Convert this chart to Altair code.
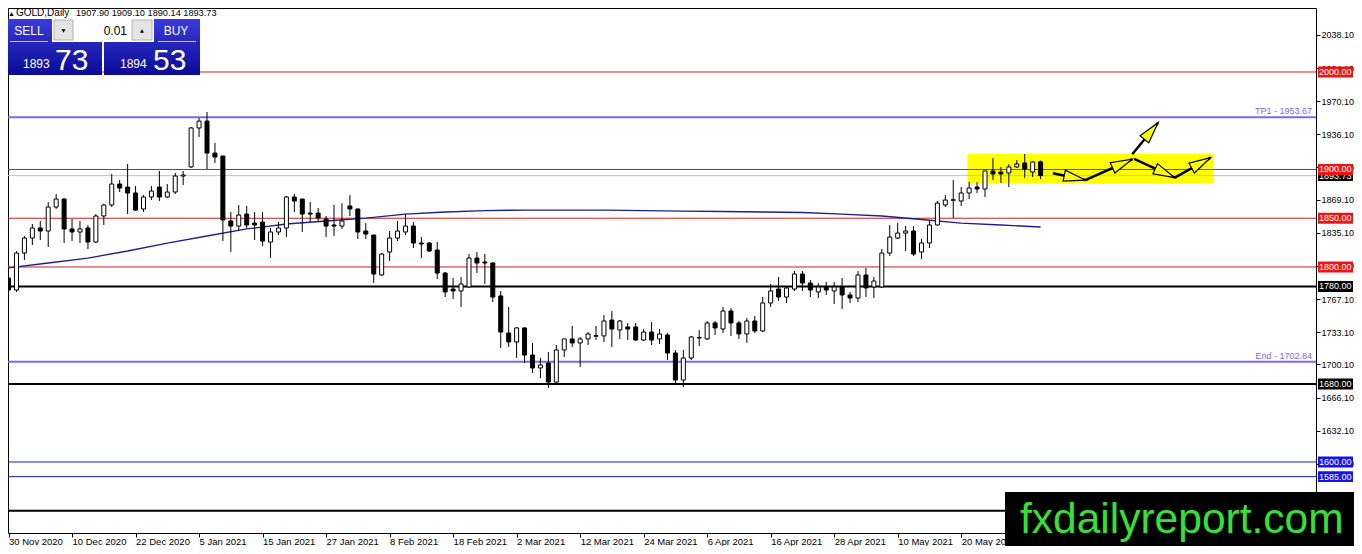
import math
import altair as alt
import pandas as pd

FONT = "Liberation Sans"

# ---------------- data ----------------
bar_index = list(range(131))
opens = [1788.7, 1776.4, 1814.3, 1829.7, 1840.0, 1836.9, 1861.5, 1869.7, 1839.0, 1835.9,
         1840.0, 1825.6, 1852.3, 1863.6, 1885.1, 1882.0, 1875.9, 1859.5, 1871.8, 1882.0,
         1871.8, 1876.9, 1893.3, 1902.6, 1942.6, 1949.7, 1916.9, 1913.8, 1847.2, 1842.0,
         1854.3, 1845.1, 1846.1, 1825.6, 1835.9, 1840.0, 1871.8, 1869.7, 1855.3, 1855.3,
         1849.2, 1843.1, 1842.0, 1862.6, 1859.5, 1836.9, 1832.8, 1791.8, 1815.4, 1829.7,
         1835.9, 1842.0, 1824.6, 1824.6, 1817.4, 1793.8, 1777.4, 1775.4, 1779.5, 1809.2,
         1805.1, 1804.1, 1770.3, 1732.3, 1723.1, 1737.5, 1709.7, 1696.4, 1701.5, 1682.0,
         1714.9, 1726.2, 1722.1, 1726.2, 1729.0, 1729.3, 1745.6, 1735.4, 1738.5, 1738.5,
         1725.1, 1733.3, 1726.2, 1730.3, 1711.8, 1684.1, 1706.7, 1727.7, 1726.2, 1742.6,
         1736.4, 1754.9, 1742.6, 1731.3, 1744.6, 1734.4, 1763.1, 1777.4, 1769.2, 1777.4,
         1792.8, 1783.6, 1774.4, 1779.5, 1775.4, 1779.5, 1771.3, 1768.2, 1791.8, 1779.5,
         1779.5, 1814.3, 1829.7, 1834.8, 1836.9, 1815.4, 1824.6, 1843.1, 1863.6, 1868.4,
         1867.7, 1875.9, 1882.0, 1880.0, 1898.5, 1897.4, 1896.4, 1902.6, 1906.7, 1897.4,
         1907.90]
highs = [1791.8, 1816.4, 1831.8, 1844.1, 1847.2, 1866.6, 1874.9, 1870.7, 1849.2, 1847.2,
         1843.1, 1854.3, 1864.6, 1895.4, 1889.2, 1905.6, 1883.1, 1873.8, 1883.1, 1898.5,
         1885.1, 1896.4, 1898.5, 1943.6, 1952.8, 1959.0, 1927.2, 1914.0, 1856.4, 1863.6,
         1862.6, 1856.4, 1856.4, 1840.0, 1846.1, 1872.8, 1874.9, 1870.0, 1866.6, 1860.5,
         1852.3, 1863.6, 1865.6, 1873.8, 1860.0, 1845.1, 1833.0, 1814.3, 1836.9, 1847.2,
         1854.3, 1846.1, 1830.7, 1825.6, 1825.6, 1794.9, 1788.7, 1789.7, 1813.3, 1815.4,
         1813.3, 1805.0, 1775.4, 1759.0, 1738.5, 1738.0, 1722.1, 1706.7, 1712.8, 1720.0,
         1726.5, 1739.5, 1728.2, 1733.3, 1739.5, 1750.8, 1754.9, 1745.6, 1742.6, 1742.6,
         1736.4, 1743.6, 1736.4, 1732.3, 1714.9, 1714.9, 1729.3, 1735.4, 1744.6, 1744.6,
         1759.0, 1758.0, 1744.6, 1747.7, 1749.7, 1769.2, 1782.6, 1789.7, 1780.5, 1795.9,
         1795.9, 1786.7, 1783.6, 1784.6, 1784.6, 1788.7, 1774.4, 1795.9, 1799.0, 1789.7,
         1818.4, 1843.1, 1845.1, 1842.0, 1842.0, 1828.7, 1848.2, 1867.7, 1873.8, 1889.2,
         1882.0, 1887.2, 1887.2, 1898.8, 1911.8, 1902.6, 1905.6, 1909.7, 1915.9, 1908.7,
         1909.10]
lows = [1764.1, 1774.4, 1807.2, 1822.5, 1827.7, 1820.5, 1859.5, 1824.6, 1826.6, 1824.6,
        1818.4, 1824.6, 1843.1, 1861.5, 1876.9, 1854.3, 1857.4, 1856.4, 1868.7, 1867.7,
        1870.7, 1874.9, 1884.1, 1901.5, 1933.3, 1900.5, 1906.7, 1826.6, 1815.4, 1836.9,
        1840.0, 1827.7, 1821.5, 1809.2, 1832.8, 1830.7, 1856.4, 1835.9, 1846.1, 1846.1,
        1830.7, 1831.8, 1839.0, 1852.3, 1828.7, 1828.7, 1783.6, 1790.8, 1806.2, 1826.6,
        1832.8, 1819.5, 1809.2, 1815.4, 1787.7, 1769.2, 1767.2, 1759.0, 1779.0, 1793.8,
        1782.6, 1764.1, 1716.9, 1718.0, 1706.7, 1701.5, 1691.3, 1686.1, 1675.9, 1678.9,
        1707.7, 1718.0, 1697.4, 1720.0, 1725.1, 1723.1, 1718.0, 1726.2, 1725.1, 1724.1,
        1724.1, 1720.0, 1721.0, 1704.6, 1678.9, 1676.9, 1704.6, 1719.0, 1725.1, 1730.3,
        1732.3, 1729.3, 1726.2, 1722.1, 1732.3, 1733.3, 1759.0, 1765.1, 1763.1, 1775.4,
        1775.4, 1769.2, 1768.2, 1771.3, 1762.1, 1756.9, 1763.1, 1764.1, 1769.2, 1768.2,
        1779.0, 1811.3, 1828.7, 1816.4, 1811.3, 1808.2, 1819.5, 1842.5, 1861.5, 1850.2,
        1862.6, 1869.7, 1875.9, 1871.8, 1889.2, 1886.2, 1882.0, 1901.5, 1891.3, 1892.3,
        1890.14]
closes = [1776.4, 1814.3, 1829.7, 1840.0, 1836.9, 1861.5, 1869.7, 1839.0, 1835.9, 1839.0,
          1825.6, 1852.3, 1863.6, 1885.1, 1881.0, 1875.9, 1858.4, 1871.8, 1877.9, 1871.8,
          1876.9, 1893.3, 1894.4, 1942.6, 1949.7, 1916.9, 1912.8, 1848.2, 1842.0, 1853.3,
          1843.1, 1843.1, 1826.6, 1835.9, 1840.0, 1871.8, 1867.7, 1854.3, 1854.3, 1850.2,
          1842.0, 1842.0, 1847.2, 1859.5, 1835.9, 1833.8, 1792.8, 1813.3, 1829.7, 1836.9,
          1842.0, 1824.6, 1823.6, 1816.4, 1793.8, 1774.4, 1775.4, 1782.6, 1809.2, 1804.1,
          1804.1, 1769.2, 1733.3, 1723.1, 1737.5, 1709.7, 1696.4, 1699.5, 1682.0, 1714.9,
          1726.2, 1722.1, 1726.2, 1731.3, 1729.6, 1744.6, 1736.4, 1744.6, 1736.4, 1725.1,
          1733.3, 1725.1, 1731.3, 1711.8, 1684.1, 1706.7, 1728.2, 1727.2, 1742.6, 1737.5,
          1754.9, 1742.6, 1731.3, 1744.6, 1734.4, 1763.1, 1775.4, 1769.2, 1778.5, 1792.8,
          1783.6, 1776.4, 1779.5, 1776.4, 1779.5, 1771.3, 1768.2, 1791.8, 1778.5, 1785.6,
          1814.3, 1830.7, 1834.8, 1836.9, 1813.3, 1824.6, 1843.1, 1865.6, 1868.7, 1869.0,
          1875.9, 1881.0, 1880.0, 1898.5, 1895.4, 1895.4, 1902.6, 1905.6, 1900.5, 1907.7,
          1893.73]

ma_index = [0, 5, 10, 15, 20, 25, 30, 35, 40, 45, 50, 55, 60, 65, 70, 75, 80, 85, 90,
            95, 100, 105, 110, 115, 120, 125, 130]
ma_value = [1799.0, 1804.1, 1809.2, 1816.4, 1824.6, 1831.8, 1839.0, 1844.1, 1847.2,
            1850.2, 1854.3, 1856.4, 1857.9, 1858.4, 1858.4, 1858.4, 1857.9, 1857.4,
            1856.9, 1856.4, 1855.9, 1854.3, 1852.3, 1848.7, 1845.1, 1843.1, 1841.0]

level_price = [2000.0, 1900.0, 1850.0, 1800.0, 1780.0, 1680.0, 1600.0, 1585.0, 1550.0]
level_line_color = ["#d41c1c", "#d41c1c", "#d41c1c", "#d41c1c", "#000000", "#000000",
                    "#1c1cc0", "#1c1cc0", "#000000"]
level_width = [1, 1, 1, 1, 2, 2, 1, 1, 2]

# price tags shown on the right scale (the 1550 tag sits under the watermark)
tag_price = [2000.0, 1900.0, 1850.0, 1800.0, 1780.0, 1680.0, 1600.0, 1585.0]
tag_color = ["#ee1414", "#ee1414", "#ee1414", "#ee1414", "#000000", "#000000",
             "#1414ee", "#1414ee"]

target_price = [1953.67, 1702.84]
target_label = ["TP1 - 1953.67", "End - 1702.84"]

bid_price = [1893.73]

zone_x1, zone_x2 = [120.8], [151.8]
zone_p1, zone_p2 = [1915.9], [1886.2]

arrow_x1 = [131.55, 135.63, 141.55, 141.8, 146.9]
arrow_p1 = [1896.1, 1889.2, 1915.6, 1910.8, 1891.6]
arrow_x2 = [135.63, 141.55, 144.8, 146.9, 151.4]
arrow_p2 = [1889.2, 1910.5, 1948.0, 1891.6, 1912.1]

date_ticks = [0, 8, 16, 24, 32, 40, 48, 56, 64, 72, 80, 88, 96, 104, 112, 120]
date_labels = ["30 Nov 2020", "10 Dec 2020", "22 Dec 2020", "5 Jan 2021", "15 Jan 2021",
               "27 Jan 2021", "8 Feb 2021", "18 Feb 2021", "2 Mar 2021", "12 Mar 2021",
               "24 Mar 2021", "6 Apr 2021", "16 Apr 2021", "28 Apr 2021", "10 May 2021",
               "20 May 2021"]
price_ticks = [2038.1, 2004.1, 1970.1, 1936.1, 1902.1, 1869.1, 1835.1, 1801.1, 1767.1,
               1733.1, 1700.1, 1666.1, 1632.1, 1598.1]

# ---------------- layout ----------------
W, H = 1308, 525
PAD_R, PAD_B = 38, 13
PX_PER_BAR = 8.0
PX_PER_USD = 0.975
X_DOMAIN = [0.5625, 0.5625 + W / PX_PER_BAR]
Y_TOP = 2065.64
Y_DOMAIN = [Y_TOP - H / PX_PER_USD, Y_TOP]

xs = alt.Scale(domain=X_DOMAIN, nice=False, zero=False)
ys = alt.Scale(domain=Y_DOMAIN, nice=False, zero=False)

label_js = "[" + ",".join("'" + d + "'" for d in date_labels) + "]"
x_axis = alt.Axis(values=date_ticks, labelExpr=label_js + "[round(datum.value/8)]",
                  orient="bottom", grid=False, domain=False, tickSize=4, tickColor="black",
                  labelAlign="left", labelBaseline="alphabetic", labelPadding=7,
                  labelFont=FONT, labelFontSize=9.5, labelColor="black", labelOverlap=False,
                  labelFlush=False, labelBound=False, title=None, zindex=0)
y_axis = alt.Axis(values=price_ticks, format=".2f", orient="right", grid=False, domain=False,
                  tickSize=4, tickColor="black", labelPadding=1, labelFont=FONT,
                  labelFontSize=9, labelColor="black", labelOverlap=False, labelFlush=False,
                  labelBound=False, title=None, zindex=0)


def X(f):
    return alt.X(f + ":Q", scale=xs, axis=x_axis)


def Y(f):
    return alt.Y(f + ":Q", scale=ys, axis=y_axis)


candles = pd.DataFrame({"i": bar_index, "open": opens, "high": highs,
                        "low": lows, "close": closes})
ma = pd.DataFrame({"i": ma_index, "v": ma_value})
levels = pd.DataFrame({"p": level_price, "lc": level_line_color, "w": level_width})
tags = pd.DataFrame({"p": tag_price, "bc": tag_color, "t": [f"{v:.2f}" for v in tag_price]})
targets = pd.DataFrame({"p": target_price, "t": target_label})
bid = pd.DataFrame({"p": bid_price, "t": [f"{v:.2f}" for v in bid_price]})
zone = pd.DataFrame({"x1": zone_x1, "x2": zone_x2, "p1": zone_p1, "p2": zone_p2})

angles = []
for a, b, c, d in zip(arrow_x1, arrow_p1, arrow_x2, arrow_p2):
    dx = (c - a) * PX_PER_BAR
    dy = -(d - b) * PX_PER_USD
    angles.append(math.degrees(math.atan2(dx, -dy)) % 360)
arrows = pd.DataFrame({"x1": arrow_x1, "p1": arrow_p1, "x2": arrow_x2, "p2": arrow_p2,
                       "ang": angles})
one = pd.DataFrame({"k": [0]})

layers = []

# yellow zone
layers.append(alt.Chart(zone).mark_rect(color="#ffff00").encode(
    x=X("x1"), x2="x2", y=Y("p1"), y2="p2"))

# horizontal levels
layers.append(alt.Chart(bid).mark_rule(color="#c0c0c0", strokeWidth=1).encode(y=Y("p")))
layers.append(alt.Chart(levels).mark_rule().encode(
    y=Y("p"), color=alt.Color("lc:N", scale=None),
    strokeWidth=alt.StrokeWidth("w:Q", scale=None)))
layers.append(alt.Chart(targets).mark_rule(color="#7b68ee", strokeWidth=2).encode(y=Y("p")))
layers.append(alt.Chart(targets).mark_text(
    align="right", baseline="alphabetic", dy=-3, font=FONT, fontSize=9, color="#7b68ee"
).encode(x=alt.value(W - 4), y=Y("p"), text="t:N"))

# moving average
layers.append(alt.Chart(ma).mark_line(color="#1e1e96", strokeWidth=1.3).encode(
    x=X("i"), y=Y("v")))

# candles
layers.append(alt.Chart(candles).mark_rule(color="black", strokeWidth=1).encode(
    x=X("i"), y=Y("low"), y2="high"))
layers.append(alt.Chart(candles).mark_bar(size=4, stroke="black", strokeWidth=1).encode(
    x=X("i"), y=Y("open"), y2="close",
    fill=alt.condition("datum.close >= datum.open", alt.value("white"), alt.value("black"))))

# arrows
layers.append(alt.Chart(arrows).mark_rule(color="black", strokeWidth=2.5).encode(
    x=X("x1"), x2="x2", y=Y("p1"), y2="p2"))
layers.append(alt.Chart(arrows).mark_point(
    shape="M0,0 L0.26,1 L-0.26,1 Z", filled=True, fill="#ffff00", stroke="black",
    strokeWidth=1.2, size=1849, opacity=1
).encode(x=X("x2"), y=Y("p2"), angle=alt.Angle("ang:Q", scale=None)))

# right-side price boxes
BOX = "M-1,-0.314 L1,-0.314 L1,0.314 L-1,0.314 Z"
BOX_X = W + 19.5
layers.append(alt.Chart(bid).mark_point(shape=BOX, filled=True, fill="black", size=1225,
                                        opacity=1).encode(x=alt.value(BOX_X), y=Y("p")))
layers.append(alt.Chart(bid).mark_text(align="left", baseline="middle", font=FONT,
                                       fontSize=9, color="white").encode(
    x=alt.value(W + 3), y=Y("p"), text="t:N"))
layers.append(alt.Chart(tags).mark_point(shape=BOX, filled=True, size=1225, opacity=1).encode(
    x=alt.value(BOX_X), y=Y("p"), fill=alt.Fill("bc:N", scale=None)))
layers.append(alt.Chart(tags).mark_text(align="left", baseline="middle", font=FONT,
                                        fontSize=9, color="white").encode(
    x=alt.value(W + 3), y=Y("p"), text="t:N"))


# ---------------- header and one-click panel ----------------
def prect(x1, x2, y1, y2, **kw):
    return alt.Chart(one).mark_rect(**kw).encode(
        x=alt.value(x1), x2=alt.value(x2), y=alt.value(y1), y2=alt.value(y2))


def ptext(txt, x, y, **kw):
    return alt.Chart(one).mark_text(text=txt, font=FONT, **kw).encode(
        x=alt.value(x), y=alt.value(y))


layers.append(ptext("\u25b2", 0, 8, fontSize=7, align="left", baseline="alphabetic",
                    color="black"))
layers.append(ptext("GOLD,Daily", 8, 8, fontSize=10, align="left", baseline="alphabetic",
                    color="black"))
layers.append(ptext("1907.90 1909.10 1890.14 1893.73", 68, 8, fontSize=9.2, align="left",
                    baseline="alphabetic", color="black"))

grad = alt.Gradient(gradient="linear",
                    stops=[alt.GradientStop(color="#3b3bdc", offset=0),
                           alt.GradientStop(color="#0a0a94", offset=1)],
                    x1=0, x2=0, y1=0, y2=1)
layers.append(prect(-3, 94, 11, 67, fill=grad))
layers.append(prect(96, 192, 11, 67, fill=grad))
layers.append(prect(44, 146, 10, 34, color="white"))
layers.append(prect(46, 65, 12, 32, fill="#e4e4e4", stroke="#b4b4b4", strokeWidth=1))
layers.append(prect(124, 144, 12, 32, fill="#e4e4e4", stroke="#b4b4b4", strokeWidth=1))
layers.append(alt.Chart(one).mark_point(shape="triangle-down", filled=True, color="black",
                                        size=16, opacity=1).encode(
    x=alt.value(55.5), y=alt.value(23)))
layers.append(alt.Chart(one).mark_point(shape="triangle-up", filled=True, color="black",
                                        size=16, opacity=1).encode(
    x=alt.value(134), y=alt.value(23)))
layers.append(ptext("0.01", 119, 23, fontSize=12, align="right", baseline="middle",
                    color="black"))
layers.append(ptext("SELL", 21, 23, fontSize=12, align="center", baseline="middle",
                    color="white"))
layers.append(ptext("BUY", 168, 23, fontSize=12, align="center", baseline="middle",
                    color="white"))
layers.append(prect(2, 40, 33, 34, color="#c8c8f0"))
layers.append(prect(150, 188, 33, 34, color="#c8c8f0"))
layers.append(ptext("1893", 15, 60, fontSize=12, align="left", baseline="alphabetic",
                    color="white"))
layers.append(ptext("73", 47, 62, fontSize=30, align="left", baseline="alphabetic",
                    color="white"))
layers.append(ptext("1894", 112, 60, fontSize=12, align="left", baseline="alphabetic",
                    color="white"))
layers.append(ptext("53", 145, 62, fontSize=30, align="left", baseline="alphabetic",
                    color="white"))

# ---------------- watermark ----------------
layers.append(prect(997, W + PAD_R + 2, 484, 560, color="black"))
layers.append(ptext("fxdailyreport.com", 1012, 525, fontSize=42.5, align="left",
                    baseline="alphabetic", color="#36e036"))

chart = alt.layer(*layers).properties(
    width=W, height=H,
    autosize=alt.AutoSizeParams(type="none"),
    padding={"left": 0, "top": 0, "right": PAD_R, "bottom": PAD_B},
    background="white",
).configure_view(stroke="black", strokeWidth=1)

chart.save("out.html", embed_options={"renderer": "svg", "actions": False})
